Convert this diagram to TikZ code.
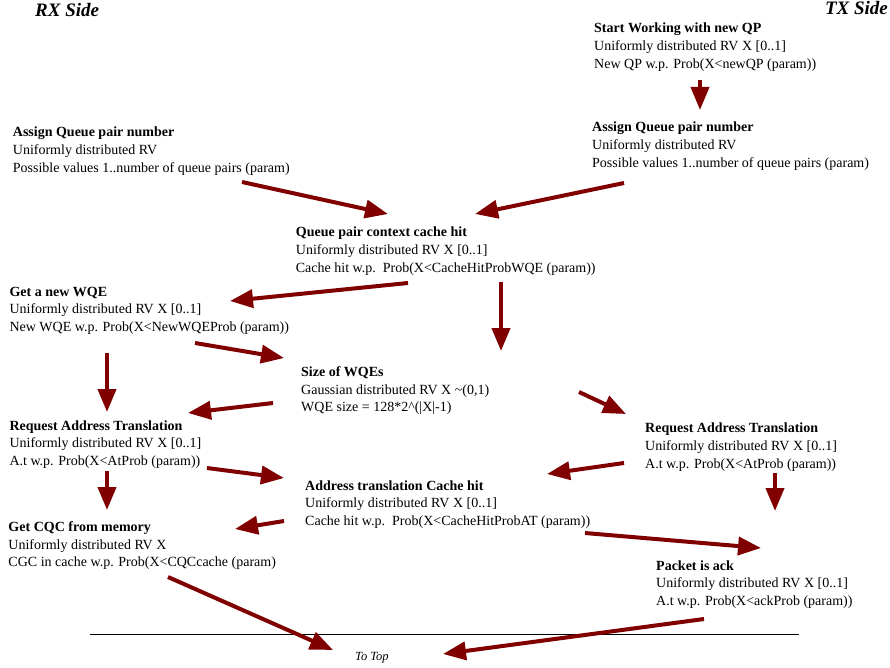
\documentclass[tikz,border=0pt]{standalone}
\usepackage{fontspec}
\setmainfont{Liberation Serif}
\usetikzlibrary{arrows.meta}
\definecolor{flowred}{RGB}{128,0,0}
\tikzset{
  flow/.style={draw=flowred, line width=4pt, -{Triangle[length=23pt,width=18pt]}},
  block/.style={anchor=base west, inner sep=0pt, font=\fontsize{14}{17.7}\selectfont},
  side/.style={anchor=base west, inner sep=0pt, font=\fontsize{19}{22}\selectfont\bfseries\itshape},
}
% three-line step description: bold title and two plain lines
\newcommand{\stepdesc}[3]{\begin{tabular}[t]{@{}l@{}}\textbf{#1}\\#2\\#3\end{tabular}}
\begin{document}
\begin{tikzpicture}[x=1pt,y=-1pt]
\useasboundingbox (0,0) rectangle (890,668);

% side headings
\node[side] (rx) at (35,16.5) {RX Side};
\node[side, anchor=base east] (tx) at (888,15) {TX Side};

% steps
\node[block] (txstart) at (594,33) {\stepdesc{Start Working with new QP}{Uniformly distributed RV X [0..1]}{New QP w.p. Prob(X<newQP (param))}};
\node[block] (txassign) at (592,131.7) {\stepdesc{Assign Queue pair number}{Uniformly distributed RV}{Possible values 1..number of queue pairs (param)}};
\node[block] (rxassign) at (12.7,137) {\stepdesc{Assign Queue pair number}{Uniformly distributed RV}{Possible values 1..number of queue pairs (param)}};
\node[block] (qpcache) at (295.7,236.7) {\stepdesc{Queue pair context cache hit}{Uniformly distributed RV X [0..1]}{Cache hit w.p.\ \ Prob(X<CacheHitProbWQE (param))}};
\node[block] (newwqe) at (9.3,296) {\stepdesc{Get a new WQE}{Uniformly distributed RV X [0..1]}{New WQE w.p. Prob(X<NewWQEProb (param))}};
\node[block] (wqesize) at (301,376.5) {\stepdesc{Size of WQEs}{Gaussian distributed RV X \textasciitilde(0,1)}{WQE size = 128*2\textasciicircum(|X|-1)}};
\node[block] (rxat) at (9.3,430) {\stepdesc{Request Address Translation}{Uniformly distributed RV X [0..1]}{A.t w.p. Prob(X<AtProb (param))}};
\node[block] (txat) at (645,432.7) {\stepdesc{Request Address Translation}{Uniformly distributed RV X [0..1]}{A.t w.p. Prob(X<AtProb (param))}};
\node[block] (atcache) at (305,490) {\stepdesc{Address translation Cache hit}{Uniformly distributed RV X [0..1]}{Cache hit w.p.\ \ Prob(X<CacheHitProbAT (param))}};
\node[block] (cqc) at (8.3,531.5) {\stepdesc{Get CQC from memory}{Uniformly distributed RV X}{CGC in cache w.p. Prob(X<CQCcache (param)}};
\node[block] (ack) at (656,570) {\stepdesc{Packet is ack}{Uniformly distributed RV X [0..1]}{A.t w.p. Prob(X<ackProb (param))}};
\node[anchor=base west, inner sep=0pt, font=\fontsize{12.5}{14}\selectfont\itshape] (totop) at (355,660) {To Top};

% separator above the return target
\coordinate (sepL) at (90,634);
\coordinate (sepR) at (799,634);
\draw[line width=0.8pt] (sepL) -- (sepR);

% connector end points
\coordinate (txstart-out) at (700,80);   \coordinate (txassign-in) at (700,110);
\coordinate (rxassign-out) at (242,182); \coordinate (qp-in-l) at (388,214);
\coordinate (txassign-out) at (624,183); \coordinate (qp-in-r) at (475,214);
\coordinate (qp-out-l) at (408,283);     \coordinate (wqe-in) at (230,301);
\coordinate (qp-out-d) at (501,282);     \coordinate (size-in-t) at (501,351);
\coordinate (wqe-out-r) at (195,343);    \coordinate (size-in-l) at (284,358);
\coordinate (wqe-out-d) at (107,353);    \coordinate (rxat-in-t) at (107,412);
\coordinate (size-out-l) at (273,403);   \coordinate (rxat-in-r) at (188,413);
\coordinate (size-out-r) at (579,392);   \coordinate (txat-in) at (626,414);
\coordinate (rxat-out-r) at (207,468);   \coordinate (atc-in-l) at (284,478);
\coordinate (rxat-out-d) at (107,471);   \coordinate (cqc-in-t) at (107,510);
\coordinate (atc-out-l) at (284,521);    \coordinate (cqc-in-r) at (235,529);
\coordinate (txat-out-l) at (624,463);   \coordinate (atc-in-r) at (547,474);
\coordinate (txat-out-d) at (775,473);   \coordinate (ack-in-t) at (775,511);
\coordinate (atc-out-r) at (585,533);    \coordinate (ack-in-l) at (761,548);
\coordinate (cqc-out) at (168,577);      \coordinate (top-in-l) at (333,650);
\coordinate (ack-out) at (704,619);      \coordinate (top-in-r) at (443,654);

% flow arrows
\draw[flow] (txstart-out) -- (txassign-in);
\draw[flow] (rxassign-out) -- (qp-in-l);
\draw[flow] (txassign-out) -- (qp-in-r);
\draw[flow] (qp-out-l) -- (wqe-in);
\draw[flow] (qp-out-d) -- (size-in-t);
\draw[flow] (wqe-out-r) -- (size-in-l);
\draw[flow] (wqe-out-d) -- (rxat-in-t);
\draw[flow] (size-out-l) -- (rxat-in-r);
\draw[flow] (size-out-r) -- (txat-in);
\draw[flow] (rxat-out-r) -- (atc-in-l);
\draw[flow] (rxat-out-d) -- (cqc-in-t);
\draw[flow] (atc-out-l) -- (cqc-in-r);
\draw[flow] (txat-out-l) -- (atc-in-r);
\draw[flow] (txat-out-d) -- (ack-in-t);
\draw[flow] (atc-out-r) -- (ack-in-l);
\draw[flow] (cqc-out) -- (top-in-l);
\draw[flow] (ack-out) -- (top-in-r);
\end{tikzpicture}
\end{document}
